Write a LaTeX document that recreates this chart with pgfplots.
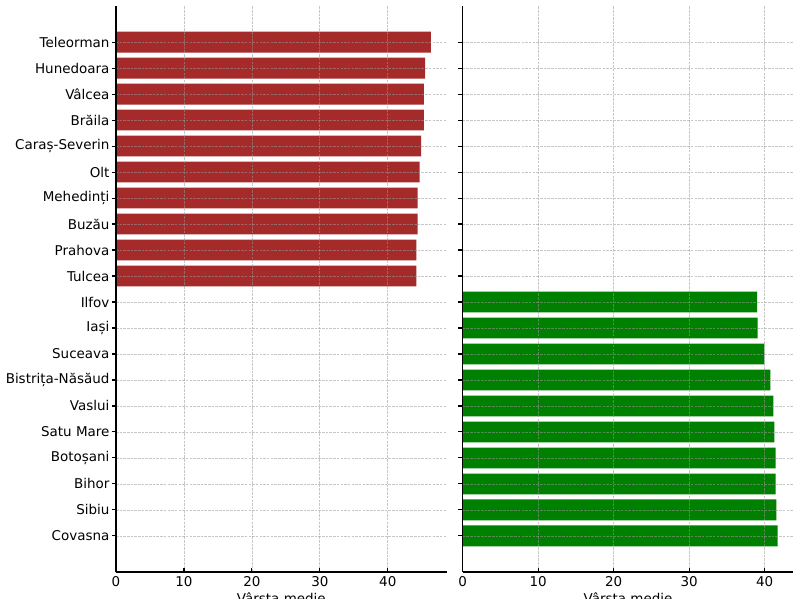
\documentclass[border=0pt]{standalone}
\usepackage{fontspec}
\setmainfont{DejaVu Sans}
\usepackage{pgfplots}
\pgfplotsset{compat=1.18}
\definecolor{barred}{RGB}{165,42,42}
\definecolor{bargreen}{RGB}{0,128,0}
\pgfplotsset{
  myax/.style={
    scale only axis, width=238.1pt, height=407.5pt,
    anchor=south west,
    axis lines*=left,
    xmin=0, ymin=-1.39, ymax=20.39,
    ytick={0,...,19},
    xtick={0,10,20,30,40},
    grid=major,
    major grid style={dash pattern=on 1.85pt off 0.8pt, black!40, opacity=0.55, line width=0.5pt},
    axis on top,
    tick align=inside,
    major tick length=3pt,
    tick style={black, line width=0.8pt},
    axis line style={black, line width=0.8pt},
    tick label style={font=\fontsize{9.7}{11.5}\selectfont},
    yticklabel style={xshift=1.8pt},
    /pgf/number format/assume math mode=true,
    xlabel={Vârsta medie},
    label style={font=\fontsize{9.7}{11.5}\selectfont},
    xlabel style={yshift=3pt},
    xbar, bar width=0.8,
    title style={font=\fontsize{11}{13}\selectfont, anchor=base, at={(0.5,1)}, yshift=4.3pt},
  }
}
\begin{document}
\begin{tikzpicture}
\begin{axis}[myax, at={(83.52pt,19.44pt)}, xmax=48.67,
  title={Cele mai îmbătrânite județe (2023)},
  yticklabels={Covasna,Sibiu,Bihor,Botoșani,Satu Mare,Vaslui,Bistrița-Năsăud,Suceava,Iași,Ilfov,Tulcea,Prahova,Buzău,Mehedinți,Olt,Caraș-Severin,Brăila,Vâlcea,Hunedoara,Teleorman}]
\addplot[xbar, fill=barred, draw=none, bar width=0.8] table {
x y
46.35 19
45.5 18
45.3 17
45.3 16
44.9 15
44.7 14
44.4 13
44.4 12
44.2 11
44.2 10
};
\end{axis}
\begin{axis}[myax, at={(333.1pt,19.44pt)}, xmax=43.8,
  title={Cele mai tinere județe (2023)},
  yticklabels={}]
\addplot[xbar, fill=bargreen, draw=none, bar width=0.8] table {
x y
39.0 9
39.07 8
39.96 7
40.76 6
41.15 5
41.29 4
41.46 3
41.46 2
41.55 1
41.71 0
};
\end{axis}
\pgfresetboundingbox
\useasboundingbox (0,0) rectangle (576pt,431.28pt);
\end{tikzpicture}
\end{document}
